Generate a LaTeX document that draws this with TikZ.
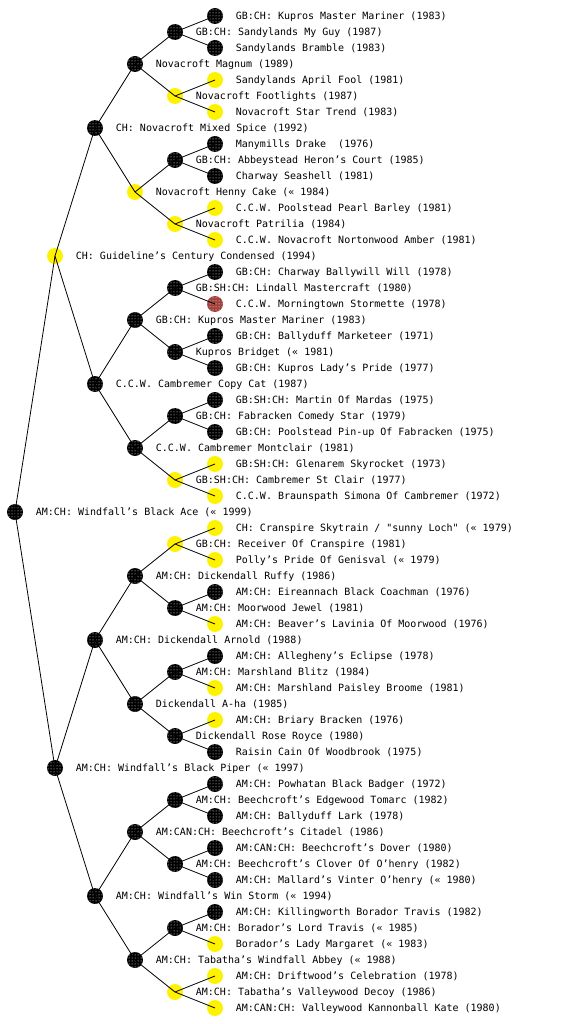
\documentclass[tikz,border=0pt]{standalone}
\usepackage{fontspec}
\newfontfamily\dogfont{DejaVu Sans Mono}
\usetikzlibrary{positioning, patterns}
\definecolor{rustred}{RGB}{160,64,56}

\begin{document}
\begin{tikzpicture}[x=1pt, y=-1pt,
    node distance=12.5pt,
    dog/.style={circle, minimum size=16pt, inner sep=0pt},
    blk/.style={dog, fill=black, postaction={pattern=dots, pattern color=white}},
    yel/.style={dog, fill=yellow},
    rust/.style={dog, fill=rustred, postaction={pattern=dots, pattern color=white}},
    txt/.style={font={\dogfont\fontsize{10pt}{12pt}\selectfont}, inner sep=0pt,
                text height=7.3pt, text depth=0pt},
    link/.style={line width=0.8pt}
  ]
    \useasboundingbox (0,0) rectangle (560,1024);

    % root
    \node[blk] (n) at (15,512) {};
    \node[txt, right=of n] (n-t) {AM:CH: Windfall’s Black Ace (« 1999)};

    % parents
    \node[yel] (na) at (55,256) {};
    \node[txt, right=of na] (na-t) {CH: Guideline’s Century Condensed (1994)};
    \node[blk] (nb) at (55,768) {};
    \node[txt, right=of nb] (nb-t) {AM:CH: Windfall’s Black Piper (« 1997)};

    % grandparents
    \node[blk] (naa) at (95,128) {};
    \node[txt, right=of naa] (naa-t) {CH: Novacroft Mixed Spice (1992)};
    \node[blk] (nab) at (95,384) {};
    \node[txt, right=of nab] (nab-t) {C.C.W. Cambremer Copy Cat (1987)};
    \node[blk] (nba) at (95,640) {};
    \node[txt, right=of nba] (nba-t) {AM:CH: Dickendall Arnold (1988)};
    \node[blk] (nbb) at (95,896) {};
    \node[txt, right=of nbb] (nbb-t) {AM:CH: Windfall’s Win Storm (« 1994)};

    % third generation
    \node[blk] (naaa) at (135,64) {};
    \node[txt, right=of naaa] (naaa-t) {Novacroft Magnum (1989)};
    \node[yel] (naab) at (135,192) {};
    \node[txt, right=of naab] (naab-t) {Novacroft Henny Cake (« 1984)};
    \node[blk] (naba) at (135,320) {};
    \node[txt, right=of naba] (naba-t) {GB:CH: Kupros Master Mariner (1983)};
    \node[blk] (nabb) at (135,448) {};
    \node[txt, right=of nabb] (nabb-t) {C.C.W. Cambremer Montclair (1981)};
    \node[blk] (nbaa) at (135,576) {};
    \node[txt, right=of nbaa] (nbaa-t) {AM:CH: Dickendall Ruffy (1986)};
    \node[blk] (nbab) at (135,704) {};
    \node[txt, right=of nbab] (nbab-t) {Dickendall A-ha (1985)};
    \node[blk] (nbba) at (135,832) {};
    \node[txt, right=of nbba] (nbba-t) {AM:CAN:CH: Beechcroft’s Citadel (1986)};
    \node[blk] (nbbb) at (135,960) {};
    \node[txt, right=of nbbb] (nbbb-t) {AM:CH: Tabatha’s Windfall Abbey (« 1988)};

    % fourth generation
    \node[blk] (naaaa) at (175,32) {};
    \node[txt, right=of naaaa] (naaaa-t) {GB:CH: Sandylands My Guy (1987)};
    \node[yel] (naaab) at (175,96) {};
    \node[txt, right=of naaab] (naaab-t) {Novacroft Footlights (1987)};
    \node[blk] (naaba) at (175,160) {};
    \node[txt, right=of naaba] (naaba-t) {GB:CH: Abbeystead Heron’s Court (1985)};
    \node[yel] (naabb) at (175,224) {};
    \node[txt, right=of naabb] (naabb-t) {Novacroft Patrilia (1984)};
    \node[blk] (nabaa) at (175,288) {};
    \node[txt, right=of nabaa] (nabaa-t) {GB:SH:CH: Lindall Mastercraft (1980)};
    \node[blk] (nabab) at (175,352) {};
    \node[txt, right=of nabab] (nabab-t) {Kupros Bridget (« 1981)};
    \node[blk] (nabba) at (175,416) {};
    \node[txt, right=of nabba] (nabba-t) {GB:CH: Fabracken Comedy Star (1979)};
    \node[yel] (nabbb) at (175,480) {};
    \node[txt, right=of nabbb] (nabbb-t) {GB:SH:CH: Cambremer St Clair (1977)};
    \node[yel] (nbaaa) at (175,544) {};
    \node[txt, right=of nbaaa] (nbaaa-t) {GB:CH: Receiver Of Cranspire (1981)};
    \node[blk] (nbaab) at (175,608) {};
    \node[txt, right=of nbaab] (nbaab-t) {AM:CH: Moorwood Jewel (1981)};
    \node[blk] (nbaba) at (175,672) {};
    \node[txt, right=of nbaba] (nbaba-t) {AM:CH: Marshland Blitz (1984)};
    \node[blk] (nbabb) at (175,736) {};
    \node[txt, right=of nbabb] (nbabb-t) {Dickendall Rose Royce (1980)};
    \node[blk] (nbbaa) at (175,800) {};
    \node[txt, right=of nbbaa] (nbbaa-t) {AM:CH: Beechcroft’s Edgewood Tomarc (1982)};
    \node[blk] (nbbab) at (175,864) {};
    \node[txt, right=of nbbab] (nbbab-t) {AM:CH: Beechcroft’s Clover Of O’henry (1982)};
    \node[blk] (nbbba) at (175,928) {};
    \node[txt, right=of nbbba] (nbbba-t) {AM:CH: Borador’s Lord Travis (« 1985)};
    \node[yel] (nbbbb) at (175,992) {};
    \node[txt, right=of nbbbb] (nbbbb-t) {AM:CH: Tabatha’s Valleywood Decoy (1986)};

    % fifth generation
    \node[blk] (naaaaa) at (215,16) {};
    \node[txt, right=of naaaaa] (naaaaa-t) {GB:CH: Kupros Master Mariner (1983)};
    \node[blk] (naaaab) at (215,48) {};
    \node[txt, right=of naaaab] (naaaab-t) {Sandylands Bramble (1983)};
    \node[yel] (naaaba) at (215,80) {};
    \node[txt, right=of naaaba] (naaaba-t) {Sandylands April Fool (1981)};
    \node[yel] (naaabb) at (215,112) {};
    \node[txt, right=of naaabb] (naaabb-t) {Novacroft Star Trend (1983)};
    \node[blk] (naabaa) at (215,144) {};
    \node[txt, right=of naabaa] (naabaa-t) {Manymills Drake\ \ (1976)};
    \node[blk] (naabab) at (215,176) {};
    \node[txt, right=of naabab] (naabab-t) {Charway Seashell (1981)};
    \node[yel] (naabba) at (215,208) {};
    \node[txt, right=of naabba] (naabba-t) {C.C.W. Poolstead Pearl Barley (1981)};
    \node[yel] (naabbb) at (215,240) {};
    \node[txt, right=of naabbb] (naabbb-t) {C.C.W. Novacroft Nortonwood Amber (1981)};
    \node[blk] (nabaaa) at (215,272) {};
    \node[txt, right=of nabaaa] (nabaaa-t) {GB:CH: Charway Ballywill Will (1978)};
    \node[rust] (nabaab) at (215,304) {};
    \node[txt, right=of nabaab] (nabaab-t) {C.C.W. Morningtown Stormette (1978)};
    \node[blk] (nababa) at (215,336) {};
    \node[txt, right=of nababa] (nababa-t) {GB:CH: Ballyduff Marketeer (1971)};
    \node[blk] (nababb) at (215,368) {};
    \node[txt, right=of nababb] (nababb-t) {GB:CH: Kupros Lady’s Pride (1977)};
    \node[blk] (nabbaa) at (215,400) {};
    \node[txt, right=of nabbaa] (nabbaa-t) {GB:SH:CH: Martin Of Mardas (1975)};
    \node[blk] (nabbab) at (215,432) {};
    \node[txt, right=of nabbab] (nabbab-t) {GB:CH: Poolstead Pin-up Of Fabracken (1975)};
    \node[yel] (nabbba) at (215,464) {};
    \node[txt, right=of nabbba] (nabbba-t) {GB:SH:CH: Glenarem Skyrocket (1973)};
    \node[yel] (nabbbb) at (215,496) {};
    \node[txt, right=of nabbbb] (nabbbb-t) {C.C.W. Braunspath Simona Of Cambremer (1972)};
    \node[yel] (nbaaaa) at (215,528) {};
    \node[txt, right=of nbaaaa] (nbaaaa-t) {CH: Cranspire Skytrain / "sunny Loch" (« 1979)};
    \node[yel] (nbaaab) at (215,560) {};
    \node[txt, right=of nbaaab] (nbaaab-t) {Polly’s Pride Of Genisval (« 1979)};
    \node[blk] (nbaaba) at (215,592) {};
    \node[txt, right=of nbaaba] (nbaaba-t) {AM:CH: Eireannach Black Coachman (1976)};
    \node[yel] (nbaabb) at (215,624) {};
    \node[txt, right=of nbaabb] (nbaabb-t) {AM:CH: Beaver’s Lavinia Of Moorwood (1976)};
    \node[blk] (nbabaa) at (215,656) {};
    \node[txt, right=of nbabaa] (nbabaa-t) {AM:CH: Allegheny’s Eclipse (1978)};
    \node[yel] (nbabab) at (215,688) {};
    \node[txt, right=of nbabab] (nbabab-t) {AM:CH: Marshland Paisley Broome (1981)};
    \node[yel] (nbabba) at (215,720) {};
    \node[txt, right=of nbabba] (nbabba-t) {AM:CH: Briary Bracken (1976)};
    \node[blk] (nbabbb) at (215,752) {};
    \node[txt, right=of nbabbb] (nbabbb-t) {Raisin Cain Of Woodbrook (1975)};
    \node[blk] (nbbaaa) at (215,784) {};
    \node[txt, right=of nbbaaa] (nbbaaa-t) {AM:CH: Powhatan Black Badger (1972)};
    \node[blk] (nbbaab) at (215,816) {};
    \node[txt, right=of nbbaab] (nbbaab-t) {AM:CH: Ballyduff Lark (1978)};
    \node[blk] (nbbaba) at (215,848) {};
    \node[txt, right=of nbbaba] (nbbaba-t) {AM:CAN:CH: Beechcroft’s Dover (1980)};
    \node[blk] (nbbabb) at (215,880) {};
    \node[txt, right=of nbbabb] (nbbabb-t) {AM:CH: Mallard’s Vinter O’henry (« 1980)};
    \node[blk] (nbbbaa) at (215,912) {};
    \node[txt, right=of nbbbaa] (nbbbaa-t) {AM:CH: Killingworth Borador Travis (1982)};
    \node[yel] (nbbbab) at (215,944) {};
    \node[txt, right=of nbbbab] (nbbbab-t) {Borador’s Lady Margaret (« 1983)};
    \node[yel] (nbbbba) at (215,976) {};
    \node[txt, right=of nbbbba] (nbbbba-t) {AM:CH: Driftwood’s Celebration (1978)};
    \node[yel] (nbbbbb) at (215,1008) {};
    \node[txt, right=of nbbbbb] (nbbbbb-t) {AM:CAN:CH: Valleywood Kannonball Kate (1980)};

    % lines from each dog to its two parents
    \foreach \p in {n, na, nb, naa, nab, nba, nbb,
                    naaa, naab, naba, nabb, nbaa, nbab, nbba, nbbb,
                    naaaa, naaab, naaba, naabb, nabaa, nabab, nabba, nabbb,
                    nbaaa, nbaab, nbaba, nbabb, nbbaa, nbbab, nbbba, nbbbb}
      \draw[link] (\p.center) -- (\p a.center) (\p.center) -- (\p b.center);
\end{tikzpicture}
\end{document}
